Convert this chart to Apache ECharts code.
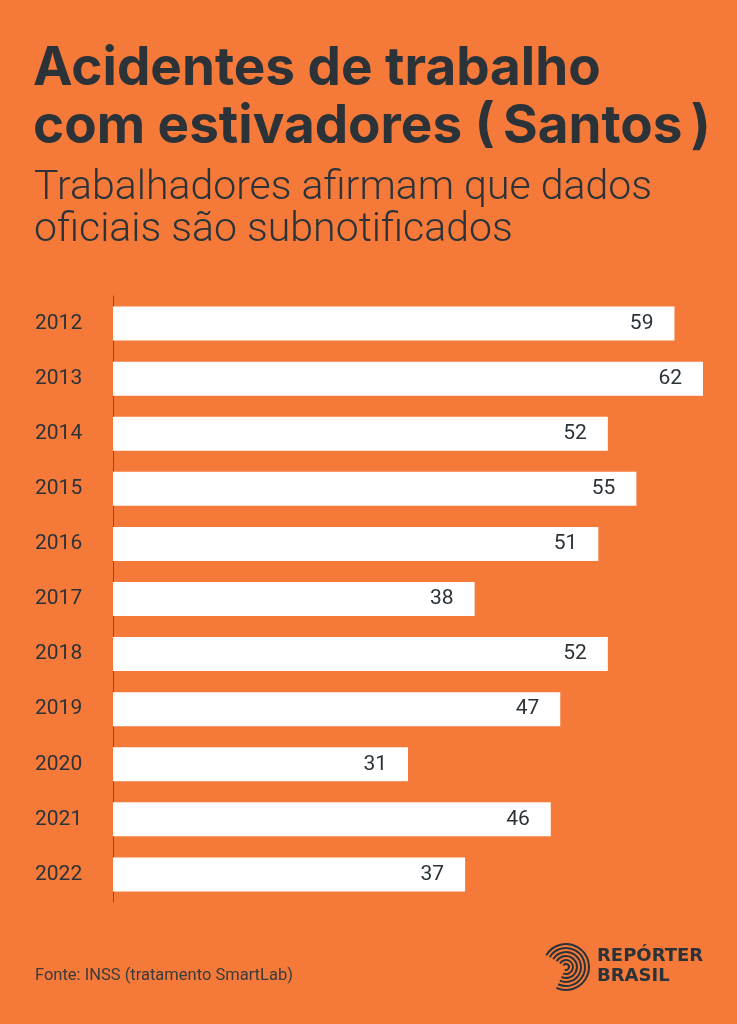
<!DOCTYPE html>
<html><head><meta charset="utf-8">
<script src="https://cdn.jsdelivr.net/npm/echarts@6/dist/echarts.min.js"></script>
<style>html,body{margin:0;padding:0;background:#F57A3A}#c{width:737px;height:1024px}</style>
</head><body><div id="c"></div>
<script>
const years = ['2012','2013','2014','2015','2016','2017','2018','2019','2020','2021','2022'];
const accidents = [59,62,52,55,51,38,52,47,31,46,37];
const titleLines = ['Acidentes de trabalho','com estivadores (\u2009Santos\u2009)'];
const subtitleLines = ['Trabalhadores afirmam que dados','oficiais são subnotificados'];
const sourceText = 'Fonte: INSS (tratamento SmartLab)';
const logoLines = ['REPÓRTER','BRASIL'];

const dark = '#2B3339';
const chart = echarts.init(document.getElementById('c'));

const arcs = [];
for (let i = 0; i < 6; i++) {
  arcs.push({type:'arc', shape:{cx:566, cy:967, r:3+i*4, startAngle:-2.6, endAngle:2.0}, style:{stroke:dark, fill:null, lineWidth:2}});
}

function line(txt, x, y, font) {
  return {type:'text', x:x, y:y, style:{text:txt, font:font, fill:dark, textVerticalAlign:'bottom', verticalAlign:'bottom'}};
}

chart.setOption({
  backgroundColor:'#F57A3A',
  animation:false,
  grid:{left:113, right:34, top:296, bottom:122, containLabel:false},
  xAxis:{type:'value', min:0, max:62, show:false},
  yAxis:{type:'category', data:years, inverse:true,
    axisLine:{show:true, lineStyle:{color:'#5f5a57', width:1}},
    axisTick:{show:false},
    axisLabel:{color:dark, fontSize:21, fontFamily:'Roboto', align:'left', margin:78}
  },
  series:[{type:'bar', data:accidents, barWidth:34,
    itemStyle:{color:'#FFFFFF'},
    label:{show:true, position:'insideRight', distance:21, color:dark, fontSize:21, fontFamily:'Roboto'}
  }],
  graphic:[
    line(titleLines[0], 33, 96, 'bold 53px Inter'),
    line(titleLines[1], 33, 154, 'bold 53px Inter'),
    line(subtitleLines[0], 34, 209, '300 41px Roboto'),
    line(subtitleLines[1], 34, 251, '300 41px Roboto'),
    {type:'text', left:35, top:967, style:{text:sourceText, font:'16.5px Roboto', fill:'#3a3a3a'}},
    {type:'text', left:597, top:946, style:{text:logoLines.join('\n'), font:'bold 18px "DejaVu Sans"', fill:dark, lineHeight:20}},
    {type:'group', children:arcs}
  ]
});
</script></body></html>
